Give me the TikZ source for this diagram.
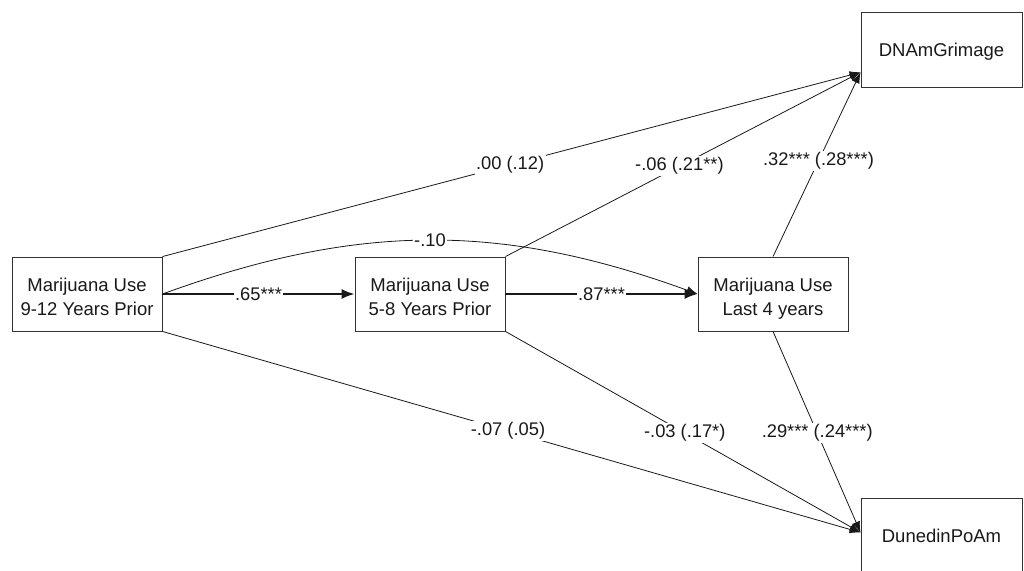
\documentclass[tikz,border=0pt]{standalone}
\usepackage{fontspec}
\setmainfont{Liberation Sans}
\usetikzlibrary{arrows.meta,calc}
\begin{document}
\begin{tikzpicture}[x=1pt,y=-1pt,
  box/.style={draw=black!80, line width=0.9pt, minimum width=150pt, minimum height=74pt, inner sep=0pt, align=center, text=black!90, font=\fontsize{18.5}{24}\selectfont, text height=46pt, text depth=4pt},
  onebox/.style={box, minimum width=161pt, minimum height=75pt, text height=13.2pt, text depth=0pt},
  lab/.style={fill=white, inner sep=1.5pt, text=black!90, font=\fontsize{18.3}{22}\selectfont},
  conn/.style={draw=black!90, line width=0.8pt, -{Latex[length=11pt,width=8pt]}},
  mainconn/.style={draw=black!90, line width=1.8pt, -{Latex[length=13pt,width=10pt]}}]
\useasboundingbox (0,0) rectangle (1024,570);
\node[box] (A) at (87,294) {Marijuana Use\\9-12 Years Prior};
\node[box] (B) at (430,294) {Marijuana Use\\5-8 Years Prior};
\node[box] (C) at (773,294) {Marijuana Use\\Last 4 years};
\node[onebox] (D) at (941.5,49.5) {DNAmGrimage};
\node[onebox] (E) at (941.5,535.5) {DunedinPoAm};
\coordinate (Din) at ($(D.south west)!0.2!(D.north west)$);
\coordinate (Ein) at ($(E.north west)!0.46!(E.south west)$);
% main chain
\draw[mainconn] (A.east) -- node[lab]{.65***} (B.west);
\draw[mainconn] (B.east) -- node[lab]{.87***} (C.west);
% curved direct path
\draw[conn] (A.east) to[out=20,in=160] node[lab,pos=.5]{-.10} (C.west);
% to DNAmGrimage
\draw[conn] (A.north east) -- node[lab,pos=.498]{.00 (.12)} (Din);
\draw[conn] (B.north east) -- node[lab,pos=.49]{-.06 (.21**)} (Din);
\draw[conn] (C.north) -- node[lab,pos=.52]{.32*** (.28***)} (Din);
% to DunedinPoAm
\draw[conn] (A.south east) -- node[lab,pos=.495]{-.07 (.05)} (Ein);
\draw[conn] (B.south east) -- node[lab,pos=.505]{-.03 (.17*)} (Ein);
\draw[conn] (C.south) -- node[lab,pos=.505]{.29*** (.24***)} (Ein);
\end{tikzpicture}
\end{document}
